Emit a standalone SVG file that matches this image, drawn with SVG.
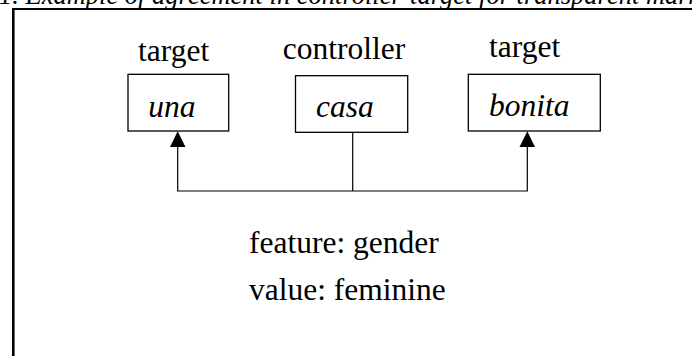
<svg xmlns="http://www.w3.org/2000/svg" width="692" height="356" viewBox="0 0 692 356">
<style>
text{font-family:'Liberation Serif','Tinos','Times New Roman','DejaVu Serif',serif;fill:#000}
.lbl{font-size:31.5px}
.it{font-style:italic}
.box{fill:#fff;stroke:#000;stroke-width:1.3}
.wire{fill:none;stroke:#000;stroke-width:1.2}
.head{fill:#000}
</style>
<rect width="692" height="356" fill="#fff"/>
<text x="-1" y="4" font-size="26.5" font-style="italic">1. Example of agreement in controller-target for transparent marking</text>
<g id="frame">
<line x1="13.3" y1="9" x2="13.3" y2="356" stroke="#000" stroke-width="2.6"/>
<line x1="12" y1="9" x2="692" y2="9" stroke="#000" stroke-width="2.2"/>
</g>
<g id="connectors">
<polyline class="wire" points="177.7,146 177.7,191 527.3,191 527.3,146"/>
<line class="wire" x1="352.7" y1="132.3" x2="352.7" y2="191"/>
<polygon class="head" points="177.7,131.3 170,147 185.5,147"/>
<polygon class="head" points="527.3,131.3 519.5,147 535,147"/>
</g>
<g id="node-una">
<text class="lbl" x="138" y="60.7">target</text>
<rect class="box" x="128" y="74.3" width="100.7" height="56.7"/>
<text class="lbl it" x="148.3" y="116.7">una</text>
</g>
<g id="node-casa">
<text class="lbl" x="282.7" y="59">controller</text>
<rect class="box" x="295.5" y="75.7" width="112.2" height="56.6"/>
<text class="lbl it" x="316" y="116.7">casa</text>
</g>
<g id="node-bonita">
<text class="lbl" x="489" y="56.5">target</text>
<rect class="box" x="468.3" y="74.3" width="132" height="56.7"/>
<text class="lbl it" x="489" y="116">bonita</text>
</g>
<g id="feature-info">
<text class="lbl" x="249" y="253">feature: gender</text>
<text class="lbl" x="249" y="300">value: feminine</text>
</g>
</svg>
